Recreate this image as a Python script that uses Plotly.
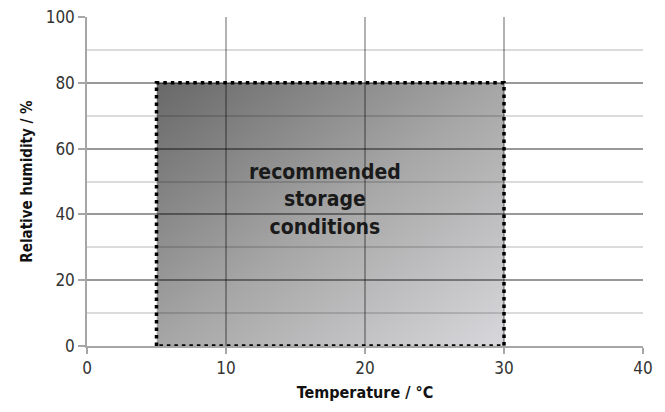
import base64
import plotly.graph_objects as go

# Data
rect_temp = [5, 5, 30, 30, 5]          # °C
rect_rh = [0, 80, 80, 0, 0]            # %
x_ticks = [0, 10, 20, 30, 40]
y_ticks = [0, 20, 40, 60, 80, 100]
label_text = "recommended<br>storage<br>conditions"

svg = ('<svg xmlns="http://www.w3.org/2000/svg" width="200" height="200" viewBox="0 0 200 200" '
       'preserveAspectRatio="none"><defs><linearGradient id="g" x1="0" y1="0" x2="1" y2="1">'
       '<stop offset="0" stop-color="#686868"/><stop offset="0.5" stop-color="#a6a6a6"/>'
       '<stop offset="1" stop-color="#d8d8dc"/></linearGradient></defs>'
       '<rect width="200" height="200" fill="url(#g)"/></svg>')
src = "data:image/svg+xml;base64," + base64.b64encode(svg.encode()).decode()

NARROW = "Liberation Sans Narrow, DejaVu Sans Condensed, Roboto Condensed, Arial Narrow, Liberation Sans, sans-serif"
GRID = "rgba(0,0,0,0.3)"
MINOR = "rgba(0,0,0,0.14)"

fig = go.Figure()
fig.add_trace(go.Scatter(
    x=rect_temp, y=rect_rh, mode="lines",
    line=dict(color="black", width=3.5, dash="3.5px,4px"),
    cliponaxis=False, hoverinfo="skip", showlegend=False,
))

xmin, xmax = min(rect_temp), max(rect_temp)
ymin, ymax = min(rect_rh), max(rect_rh)
fig.add_layout_image(dict(
    source=src, xref="x", yref="y", x=xmin, y=ymax,
    sizex=xmax - xmin, sizey=ymax - ymin, sizing="stretch",
    layer="below", xanchor="left", yanchor="top",
))

fig.add_annotation(
    x=17.1, y=44.5, xref="x", yref="y", text=label_text, showarrow=False,
    font=dict(family=NARROW, size=21, color="#1a1a1a", weight="bold"),
    align="center",
)

fig.update_layout(
    width=649, height=396,
    margin=dict(l=79, r=14, t=9, b=58, autoexpand=False),
    paper_bgcolor="white", plot_bgcolor="white",
    showlegend=False,
    xaxis=dict(
        range=[0, 40], tickvals=x_ticks, ticktext=[str(v) for v in x_ticks],
        automargin=False, ticklabeloverflow="allow",
        showgrid=True, gridcolor=GRID, gridwidth=1.5,
        showline=True, linecolor="#a6a6a6", linewidth=1.5,
        ticks="outside", ticklen=6, tickcolor="#a6a6a6", tickwidth=1.5,
        tickfont=dict(family=NARROW, size=17, color="#333333"),
        zeroline=False,
        title=dict(text="Temperature / °C", standoff=10,
                   font=dict(family=NARROW, size=16, color="#111111", weight="bold")),
    ),
    yaxis=dict(
        range=[0, 100], tickvals=y_ticks, ticktext=[str(v) for v in y_ticks],
        automargin=False, ticklabeloverflow="allow",
        showgrid=True, gridcolor=GRID, gridwidth=1.5,
        showline=True, linecolor="#a6a6a6", linewidth=1.5,
        ticks="outside", ticklen=7, tickcolor="#a6a6a6", tickwidth=1.5,
        tickfont=dict(family=NARROW, size=17, color="#333333"),
        zeroline=False,
        minor=dict(dtick=10, tick0=0, showgrid=True, gridcolor=MINOR, gridwidth=1.5, ticks=""),
        title=dict(text="Relative humidity / %", standoff=9,
                   font=dict(family=NARROW, size=15, color="#111111", weight="bold")),
    ),
)

fig.write_html("out.html")
